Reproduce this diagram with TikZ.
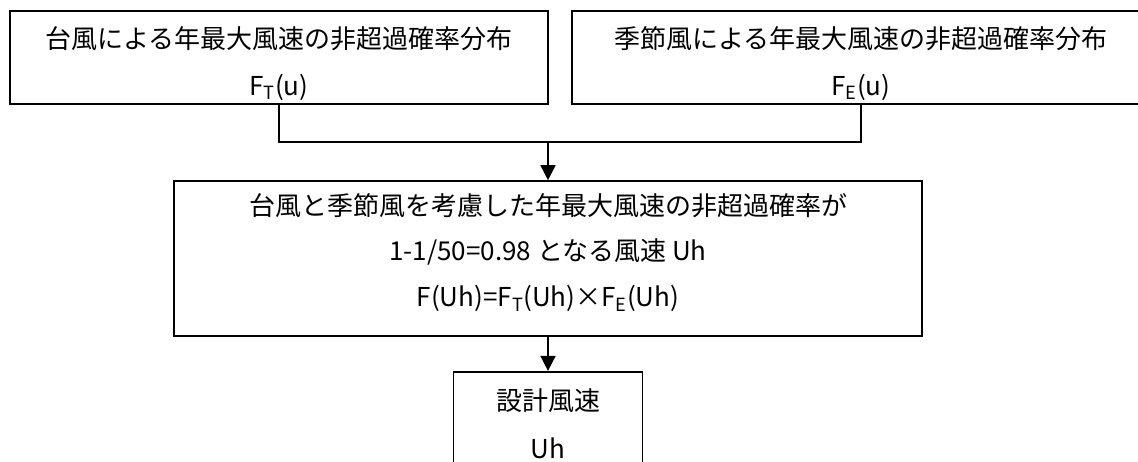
\documentclass[tikz,border=0pt]{standalone}
\usepackage{fontspec}
\setmainfont{Noto Sans CJK JP}
\usetikzlibrary{arrows.meta}
\begin{document}
\begin{tikzpicture}[x=1pt,y=-1pt,
  box/.style={draw=black,line width=1.6pt,rectangle,inner sep=0pt},
  txt/.style={anchor=base,inner sep=0pt,font=\fontsize{26pt}{30pt}\selectfont},
  conn/.style={draw=black,line width=1.6pt},
  arr/.style={conn,-{Triangle[length=15pt 0,width=15pt 0]}}]
\useasboundingbox (0,0) rectangle (1138,461);
\clip (0,0) rectangle (1138,461);
\fill[white] (0,0) rectangle (1138,461);
% boxes
\node[box,minimum width=538pt,minimum height=93pt] (b1) at (279,57.5) {};
\node[box,minimum width=578pt,minimum height=93pt] (b2) at (861,57.5) {};
\node[box,minimum width=748pt,minimum height=155pt] (mid) at (548,258.5) {};
\node[box,minimum width=189pt,minimum height=110pt] (fin) at (548,426.7) {};
% texts
\node[txt] (t1a) at (279,48.5) {台風による年最大風速の非超過確率分布};
\node[txt] (t1b) at (279,95) {F\textsubscript{T}(u)};
\node[txt] (t2a) at (861,48.5) {季節風による年最大風速の非超過確率分布};
\node[txt] (t2b) at (861,95) {F\textsubscript{E}(u)};
\node[txt] (tma) at (548,215) {台風と季節風を考慮した年最大風速の非超過確率が};
\node[txt] (tmb) at (548,260) {1-1/50=0.98 となる風速 Uh};
\node[txt] (tmc) at (548,306.5) {F(Uh)=F\textsubscript{T}(Uh)×F\textsubscript{E}(Uh)};
\node[txt] (tfa) at (548,410) {設計風速};
\node[txt] (tfb) at (548,458) {Uh};
% connectors
\coordinate (j) at (548,142);
\draw[conn] (b1.south) |- (j) -| (b2.south);
\draw[arr] (j) -- (mid.north);
\draw[arr] (mid.south) -- (fin.north);
\end{tikzpicture}
\end{document}
